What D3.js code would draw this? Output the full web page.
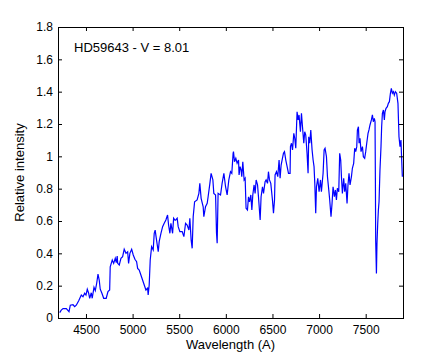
<!DOCTYPE html>
<html><head><meta charset="utf-8">
<script src="https://cdn.jsdelivr.net/npm/d3@7"></script>
<style>body{margin:0;background:#fff}svg{display:block}text{font-family:"Liberation Sans",Arial,sans-serif}</style>
</head><body>
<script>
const titleText = "HD59643 - V = 8.01";
const xLabel = "Wavelength (A)";
const yLabel = "Relative intensity";
const xTicks = [4500,5000,5500,6000,6500,7000,7500];
const yTicks = [0,0.2,0.4,0.6,0.8,1,1.2,1.4,1.6,1.8];
const xDomain = [4200, 7900];
const yDomain = [0, 1.8];
const wavelength = [4218,4235,4254,4289,4318,4332,4361,4379,4396,4422,4450,4468,4486,4500,4514,4529,4540,4557,4567,4586,4600,4615,4629,4642,4653,4671,4690,4717,4736,4754,4760,4782,4797,4814,4825,4835,
4840,4857,4875,4893,4910,4929,4947,4957,4971,4990,5007,5025,5043,5054,5071,5089,5107,5125,5143,5161,5167,5178,5189,5204,5221,5232,5242,5257,5275,5285,5304,5322,5339,5357,5375,5386,5400,5411,5429,5440,5454,
5461,5478,5489,5507,5532,5550,5568,5585,5604,5614,5628,5639,5650,5665,5692,5711,5721,5735,5757,5764,5782,5800,5810,5829,5842,5861,5871,5890,5900,5907,5917,5943,5960,5979,5997,6014,6032,6050,6064,6078,
6082,6093,6107,6121,6136,6142,6153,6164,6171,6182,6196,6207,6217,6232,6243,6254,6268,6279,6289,6303,6314,6325,6340,6350,6368,6378,6393,6404,6421,6432,6447,6457,6468,6482,6500,6511,6522,6528,6543,6557,6571,6582,6593,6607,6618,6629,6643,6654,6672,6689,
6693,6704,6715,6729,6739,6750,6764,6775,6785,6800,6811,6822,6836,6846,6857,6871,6882,6889,6900,6911,6925,6936,6946,6954,6964,6972,6986,7000,7015,7025,7043,7054,7064,7079,7090,7104,7114,7128,7139,7150,7164,7175,7186,7196,7211,7221,7232,7240,7250,7264,7275,7286,7300,7310,7321,
7332,7347,7357,7371,7382,7393,7404,7411,7422,7429,7439,7450,7465,7475,7489,7500,7511,7525,7535,7546,7561,7572,7582,7593,7600,7604,7607,7615,7621,7629,7636,7643,7653,7664,7671,7679,7690,7700,7707,7718,7732,7743,7754,7765,7775,7786,7797,7807,7818,7832,7846,7857,7868,7878,7886,7893];
const intensity = [0.033,0.049,0.058,0.058,0.039,0.079,0.082,0.070,0.079,0.107,0.142,0.132,0.153,0.142,0.178,0.153,0.122,0.156,0.122,0.190,0.169,0.215,0.272,0.235,0.178,0.153,0.122,0.122,0.163,0.173,0.317,0.359,0.338,0.369,0.342,0.383,
0.338,0.328,0.369,0.379,0.425,0.400,0.410,0.338,0.400,0.425,0.390,0.363,0.348,0.307,0.297,0.266,0.235,0.204,0.173,0.184,0.142,0.204,0.359,0.441,0.421,0.524,0.544,0.482,0.410,0.472,0.524,0.565,0.586,0.606,0.637,0.575,0.524,0.586,0.524,0.617,0.606,
0.606,0.617,0.565,0.534,0.534,0.503,0.586,0.575,0.544,0.617,0.482,0.431,0.627,0.719,0.730,0.771,0.833,0.740,0.688,0.627,0.688,0.709,0.750,0.833,0.895,0.854,0.771,0.761,0.524,0.462,0.771,0.761,0.833,0.895,0.812,0.761,0.854,0.905,0.895,1.019,
1.029,0.967,0.988,0.957,0.977,0.885,0.936,0.915,0.874,0.967,0.854,0.864,0.679,0.668,0.750,0.719,0.761,0.668,0.761,0.823,0.771,0.854,0.823,0.750,0.606,0.750,0.812,0.771,0.843,0.854,0.833,0.905,0.854,0.833,0.730,0.648,0.730,0.885,0.905,0.874,0.977,0.864,0.946,0.988,1.019,1.029,0.977,0.946,0.895,0.895,
1.060,1.081,1.039,1.142,1.112,1.050,1.276,1.225,1.256,1.152,1.266,1.183,1.081,1.152,1.132,1.019,0.895,1.121,1.081,1.163,1.039,0.977,0.936,0.833,0.648,0.812,0.864,0.781,0.854,0.781,0.895,1.039,1.050,0.998,0.874,0.792,0.730,0.627,0.709,0.812,0.750,0.792,0.730,0.802,0.781,1.019,0.977,0.874,0.771,0.864,0.781,0.833,0.709,0.823,0.895,
0.823,0.874,0.926,0.957,1.050,1.029,1.060,1.163,1.183,1.081,1.112,1.029,1.060,0.998,0.988,1.029,1.081,1.142,1.163,1.194,1.225,1.256,1.214,1.235,1.214,0.854,0.482,0.276,0.462,0.586,0.668,0.719,0.915,1.060,1.183,1.266,1.287,1.225,1.276,1.297,1.307,1.328,1.338,1.390,1.421,1.390,1.400,1.379,1.400,1.390,1.328,1.121,1.060,1.101,0.977,0.874];

const W = 445, H = 357;
const m = {l:58, r:403, t:27, b:318};
const svg = d3.select("body").append("svg").attr("width", W).attr("height", H);
const x = d3.scaleLinear().domain(xDomain).range([m.l, m.r]);
const y = d3.scaleLinear().domain(yDomain).range([m.b, m.t]);

const data = wavelength.map((w,i)=>({w, v:intensity[i]}));
svg.append("path").datum(data)
  .attr("fill","none").attr("stroke","#0000ff").attr("stroke-width",1.2)
  .attr("d", d3.line().x(d=>x(d.w)).y(d=>y(d.v)));

const fmtY = d => d3.format("~g")(d);
function style(g, labels){
  g.select(".domain").remove();
  g.selectAll(".tick line").attr("stroke","#000");
  g.selectAll("text").attr("font-size", 12).attr("fill","#000");
  if(!labels) g.selectAll("text").remove();
}
svg.append("g").attr("transform",`translate(0,${m.b})`)
  .call(d3.axisBottom(x).tickValues(xTicks).tickSizeInner(-4).tickSizeOuter(0).tickPadding(7).tickFormat(d3.format("d")))
  .call(g=>style(g,true));
svg.append("g").attr("transform",`translate(0,${m.t})`)
  .call(d3.axisTop(x).tickValues(xTicks).tickSizeInner(-4).tickSizeOuter(0))
  .call(g=>style(g,false));
svg.append("g").attr("transform",`translate(${m.l},0)`)
  .call(d3.axisLeft(y).tickValues(yTicks).tickSizeInner(-4).tickSizeOuter(0).tickPadding(5).tickFormat(fmtY))
  .call(g=>style(g,true));
svg.append("g").attr("transform",`translate(${m.r},0)`)
  .call(d3.axisRight(y).tickValues(yTicks).tickSizeInner(-4).tickSizeOuter(0))
  .call(g=>style(g,false));

svg.append("rect").attr("x", m.l+0.5).attr("y", m.t+0.5)
  .attr("width", m.r-m.l).attr("height", m.b-m.t)
  .attr("fill","none").attr("stroke","#000").attr("stroke-width",1);

svg.append("text").attr("x", 74).attr("y", 52).attr("font-size", 13).text(titleText);
svg.append("text").attr("x", (m.l+m.r)/2).attr("y", 349).attr("text-anchor","middle").attr("font-size", 13).text(xLabel);
svg.append("text").attr("transform", `translate(24,${(m.t+m.b)/2}) rotate(-90)`).attr("text-anchor","middle").attr("font-size", 13).text(yLabel);
</script>
</body></html>
